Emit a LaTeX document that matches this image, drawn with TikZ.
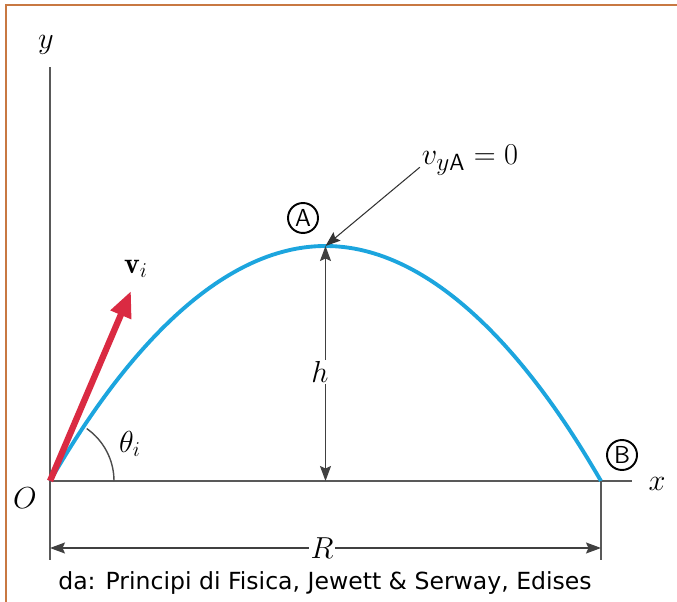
\documentclass[tikz,border=0pt]{standalone}
\usepackage{amsmath,amssymb}
\usepackage{fontspec}
\usepackage{xcolor}
\usetikzlibrary{arrows.meta,positioning,calc}
\newfontfamily\capfont{DejaVu Sans}
\definecolor{frameorange}{RGB}{200,120,66}
\definecolor{pathcyan}{RGB}{28,165,222}
\definecolor{vecred}{RGB}{218,42,66}

\begin{document}
\begin{tikzpicture}[
    font=\fontsize{17}{20}\selectfont,
    >={Stealth[length=3mm,width=2.2mm,inset=0.5mm]},
    axis/.style={draw=black!65,line width=0.8pt},
    dimline/.style={draw=black!65,line width=0.8pt},
    tag/.style={
      draw,
      circle,
      line width=1.1pt,
      inner sep=0pt,
      minimum size=6mm,
      font=\sffamily\fontsize{14}{14}\selectfont
    },
    lab/.style={inner sep=1pt}
  ]
  \useasboundingbox (-1.0,-2.42) rectangle (12.54,9.62);

  % frame
  \draw[frameorange,line width=1.4pt] (-0.88,-2.5) -- (-0.88,9.52) -- (12.6,9.52);

  % ========== Axes ==========
  \coordinate (O) at (0,0);
  \coordinate (ytop) at (0,8.28);
  \coordinate (xend) at (11.64,0);
  \coordinate (B) at (11.02,0);
  \coordinate (A) at (5.51,4.7);

  \draw[axis] (O) -- (ytop);
  \draw[axis] (O) -- (xend);
  \node[lab] (ylab) at (-0.08,8.72) {$y$};
  \node[lab] (xlab) at (12.14,-0.06) {$x$};
  \node[lab] (olab) at (-0.5,-0.34) {$O$};

  % ========== Trajectory ==========
  \draw[pathcyan,line width=2.2pt] (O) parabola bend (A) (B);

  \draw[vecred,line width=3.6pt,
        -{Triangle[length=5.2mm,width=4.2mm]}]
    (O) -- (1.62,3.8) coordinate (vtip);
  \node[lab] (vlab) at (1.72,4.24) {$\mathbf{v}_i$};

  \draw[black!70,line width=0.8pt] (1.28,0) arc[start angle=0,end angle=55,radius=1.28];
  \node[lab] (thlab) at (1.6,0.74) {$\theta_i$};

  % ========== Peak ==========
  \node[tag] (tagA) at (5.06,5.26) {A};
  \node[tag] (tagB) at (11.44,0.52) {B};

  \draw[dimline,<->,black!75] (A) -- (A |- O);
  \node[lab,fill=white] (hlab) at (5.4,2.18) {$h$};

  \node[lab,font=\fontsize{19}{22}\selectfont] (vya) at (8.4,6.42) {$v_{y\mathsf{A}} = 0$};
  \draw[black!80,line width=0.6pt,->] ($(vya.south west)+(0,0.2)$) -- (A);

  % ========== Range ==========
  \draw[dimline] (O) -- (0,-1.58) coordinate (r1);
  \draw[dimline] (B) -- (11.02,-1.58) coordinate (r2);
  \draw[dimline,<->,black!75] (0,-1.34) -- (11.02,-1.34);
  \node[lab,fill=white] (rlab) at (5.44,-1.34) {$R$};

  \node[font=\capfont\fontsize{13.4}{15}\selectfont] (src) at (5.5,-2.04)
    {da: Principi di Fisica, Jewett \& Serway, Edises};
\end{tikzpicture}
\end{document}
